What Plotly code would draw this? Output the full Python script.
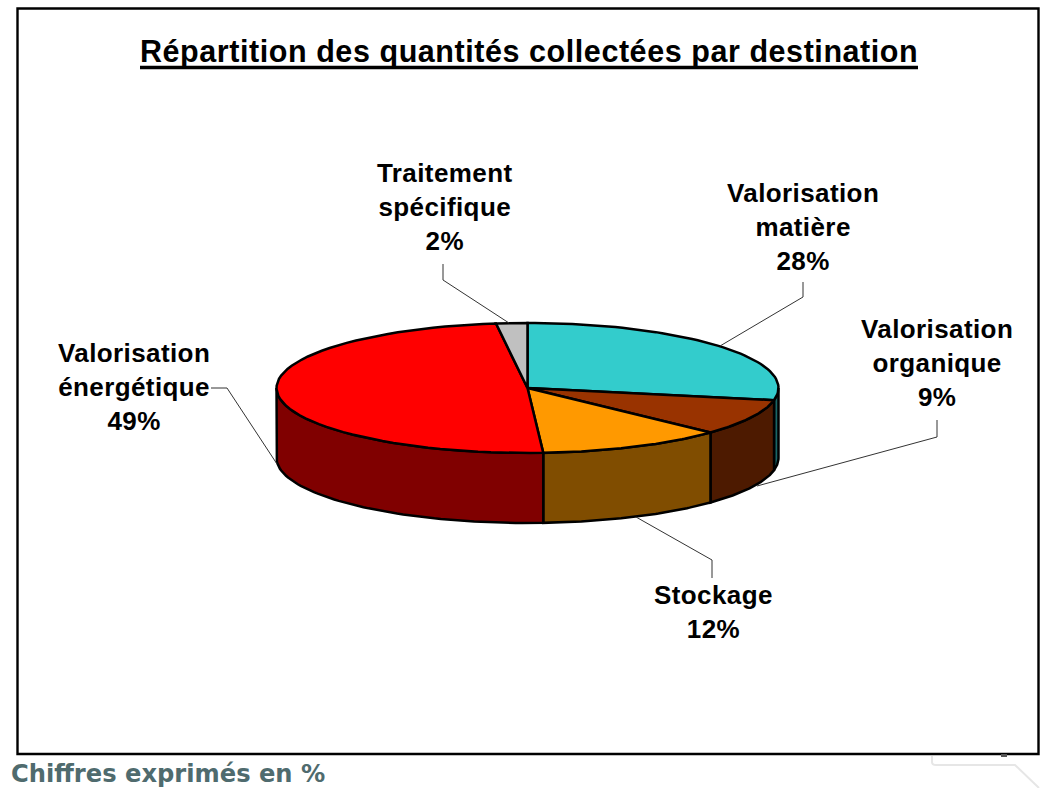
import numpy as np
import plotly.graph_objects as go

# Data
categories = ["Valorisation<br>matière", "Valorisation<br>organique", "Stockage",
              "Valorisation<br>énergétique", "Traitement<br>spécifique"]
values = [28, 9, 12, 49, 2]
title_text = "Répartition des quantités collectées par destination"
footer_text = "Chiffres exprimés en %"

# Style
top_colors = ["#33CCCC", "#993300", "#FF9900", "#FF0000", "#C0C0C0"]
side_colors = ["#1A6666", "#4D1A00", "#804D00", "#800000", "#606060"]
label_pos = [(803, 227), (937, 363), (713.5, 612), (133.5, 387), (445, 207)]
leaders = [
    [(803, 282), (803, 297), (720, 346)],
    [(937, 420), (937, 437), (757, 486)],
    [(712, 578), (712, 560), (636, 517)],
    [(211, 388), (227, 388), (277, 464)],
    [(443, 264), (443, 280), (509, 323)],
]
CX, CY, RX, RY, DEPTH = 527.5, 388, 251, 65, 70
FONT = "Liberation Sans"

def arc(t0, t1, dy=0, n=60):
    t = np.radians(np.linspace(t0, t1, n))
    return CX + RX * np.sin(t), CY - RY * np.cos(t) + dy

def spaced(text, px):
    lines = text.split("<br>")
    return "<br>".join(f"<span style='letter-spacing:{px}px'><b>{ln}</b></span>" for ln in lines)

fig = go.Figure()
edges = np.concatenate([[0], np.cumsum(values)]) / sum(values) * 360

# Visible front walls
for i in range(len(values)):
    a0, a1 = max(edges[i], 90), min(edges[i + 1], 270)
    if a1 <= a0:
        continue
    xt, yt = arc(a0, a1)
    xb, yb = arc(a1, a0, DEPTH)
    fig.add_trace(go.Scatter(
        x=np.r_[xt, xb, xt[0]], y=np.r_[yt, yb, yt[0]], mode="lines", fill="toself",
        fillcolor=side_colors[i], line=dict(color="black", width=2.5),
        hoverinfo="skip", showlegend=False))

# Top faces
for i in range(len(values)):
    xa, ya = arc(edges[i], edges[i + 1])
    fig.add_trace(go.Scatter(
        x=np.r_[CX, xa, CX], y=np.r_[CY, ya, CY], mode="lines", fill="toself",
        fillcolor=top_colors[i], line=dict(color="black", width=2.5),
        name=categories[i].replace("<br>", " "), hoverinfo="name", showlegend=False))

# Leader lines
for pts in leaders:
    fig.add_trace(go.Scatter(
        x=[p[0] for p in pts], y=[p[1] for p in pts], mode="lines",
        line=dict(color="#333333", width=1), hoverinfo="skip", showlegend=False))

shapes = [
    dict(type="rect", xref="x", yref="y", x0=17.5, x1=1038.5, y0=8.5, y1=754,
         line=dict(color="black", width=2.4), layer="above"),
    dict(type="line", xref="x", yref="y", x0=140, x1=918, y0=67.5, y1=67.5,
         line=dict(color="black", width=3.5)),
    dict(type="path", xref="x", yref="y",
         path="M 932 756 L 932 762 Q 932 765 936 765 L 1015 765 L 1039 788",
         line=dict(color="#E6E6E6", width=2)),
    dict(type="line", xref="x", yref="y", x0=1001, x1=1007, y0=755.5, y1=755.5,
         line=dict(color="#555555", width=3)),
]

annotations = [
    dict(x=529, y=51, text=spaced(title_text, 0.56), showarrow=False, xanchor="center",
         yanchor="middle", font=dict(family=FONT, size=30.5, color="black")),
    dict(x=11, y=773.5, text=f"<b>{footer_text}</b>", showarrow=False, xanchor="left",
         yanchor="middle", borderpad=0, borderwidth=0,
         font=dict(family="DejaVu Sans", size=24.2, color="#4F6B6E")),
]
for c, v, (lx, ly) in zip(categories, values, label_pos):
    annotations.append(dict(x=lx, y=ly, text=spaced(f"{c}<br>{v}%", 0.4), showarrow=False,
                            xanchor="center", yanchor="middle", align="center",
                            font=dict(family=FONT, size=26, color="black")))

fig.update_layout(
    width=1041, height=788, margin=dict(l=0, r=0, t=0, b=0),
    paper_bgcolor="white", plot_bgcolor="white",
    xaxis=dict(range=[0, 1041], visible=False, fixedrange=True),
    yaxis=dict(range=[788, 0], visible=False, fixedrange=True),
    shapes=shapes, annotations=annotations,
)
fig.write_html("out.html", config=dict(displayModeBar=False),
               post_script="document.body.style.margin='0';document.body.style.overflow='hidden';")
